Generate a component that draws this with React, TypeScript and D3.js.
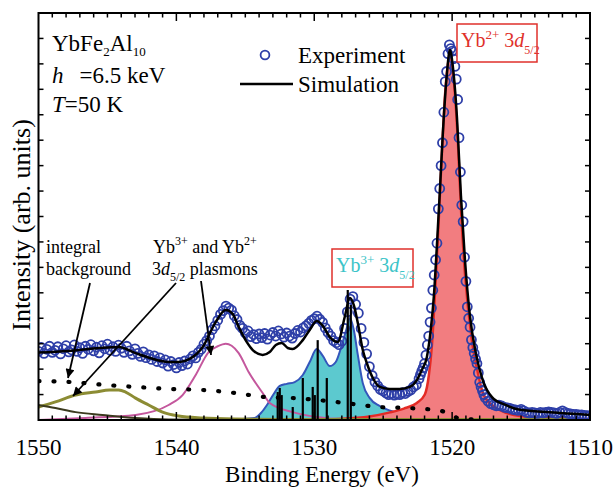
import React from "react";
import * as d3 from "d3";

type P = [number, number];

const W = 616;
const H = 488;
const X_DOMAIN: [number, number] = [1550, 1510];
const Y_DOMAIN: [number, number] = [0, 16];
const X_TICK_LABELS = [1550, 1540, 1530, 1520, 1510];

// Experimental spectrum [binding energy eV, intensity]
const expData: P[] = [
  [1550.0, 2.70], [1549.8, 2.85], [1549.6, 2.62], [1549.4, 2.78], [1549.2, 2.90], [1549.0, 2.66],
  [1548.8, 2.74], [1548.6, 2.88], [1548.4, 2.60], [1548.2, 2.80], [1548.0, 2.92], [1547.8, 2.68],
  [1547.6, 2.76], [1547.4, 2.95], [1547.2, 2.70], [1547.0, 2.84], [1546.8, 2.62], [1546.6, 2.90],
  [1546.4, 2.78], [1546.2, 2.96], [1546.0, 2.72], [1545.8, 2.86], [1545.6, 2.64], [1545.4, 2.92],
  [1545.2, 2.80], [1545.0, 2.98], [1544.8, 2.74], [1544.6, 2.88], [1544.4, 2.70], [1544.2, 2.94],
  [1544.0, 2.82], [1543.8, 2.66], [1543.6, 2.90], [1543.4, 2.72], [1543.2, 2.58], [1543.0, 2.80],
  [1542.8, 2.62], [1542.6, 2.50], [1542.4, 2.68], [1542.2, 2.45], [1542.0, 2.56], [1541.8, 2.38],
  [1541.6, 2.52], [1541.4, 2.30], [1541.2, 2.44], [1541.0, 2.24], [1540.8, 2.36], [1540.6, 2.12],
  [1540.4, 2.30], [1540.2, 2.18], [1540.0, 2.05], [1539.8, 2.26], [1539.6, 2.14], [1539.4, 2.32],
  [1539.2, 2.20], [1539.0, 2.40], [1538.8, 2.52], [1538.6, 2.44], [1538.4, 2.66], [1538.2, 2.78],
  [1538.0, 2.98], [1537.8, 3.12], [1537.6, 3.30], [1537.4, 3.55], [1537.2, 3.70], [1537.0, 3.92],
  [1536.8, 4.15], [1536.6, 4.30], [1536.4, 4.48], [1536.2, 4.40], [1536.0, 4.32], [1535.8, 4.10],
  [1535.6, 3.95], [1535.4, 3.72], [1535.2, 3.60], [1535.0, 3.42], [1534.8, 3.50], [1534.6, 3.28],
  [1534.4, 3.36], [1534.2, 3.20], [1534.0, 3.38], [1533.8, 3.24], [1533.6, 3.40], [1533.4, 3.18],
  [1533.2, 3.34], [1533.0, 3.44], [1532.8, 3.30], [1532.6, 3.50], [1532.4, 3.38], [1532.2, 3.26],
  [1532.0, 3.42], [1531.8, 3.30], [1531.6, 3.22], [1531.4, 3.40], [1531.2, 3.52], [1531.0, 3.46],
  [1530.8, 3.62], [1530.6, 3.70], [1530.4, 3.80], [1530.2, 3.92], [1530.0, 3.98], [1529.8, 4.08],
  [1529.6, 3.96], [1529.4, 3.84], [1529.2, 3.62], [1529.0, 3.44], [1528.8, 3.30], [1528.6, 3.12],
  [1528.4, 3.04], [1528.2, 2.96], [1528.0, 3.10], [1527.8, 3.60], [1527.6, 4.25], [1527.4, 4.75],
  [1527.2, 4.85], [1527.0, 4.55], [1526.8, 4.20], [1526.6, 3.60], [1526.4, 3.05], [1526.2, 2.60],
  [1526.0, 2.10], [1525.8, 1.75], [1525.6, 1.50], [1525.4, 1.34], [1525.2, 1.20], [1525.0, 1.14],
  [1524.8, 1.06], [1524.6, 1.00], [1524.4, 1.04], [1524.2, 0.98], [1524.0, 1.02], [1523.8, 1.00],
  [1523.6, 1.08], [1523.4, 1.04], [1523.2, 1.12], [1523.0, 1.18], [1522.8, 1.30], [1522.6, 1.38],
  [1522.4, 1.62], [1522.3, 1.78], [1522.2, 1.92], [1522.1, 2.05], [1522.0, 2.22], [1521.9, 2.55],
  [1521.8, 2.95], [1521.7, 3.30], [1521.6, 3.85], [1521.5, 4.40], [1521.4, 5.10], [1521.3, 5.70],
  [1521.2, 6.30], [1521.1, 6.95], [1521.0, 8.30], [1520.9, 9.10], [1520.8, 10.00], [1520.7, 10.90],
  [1520.6, 12.10], [1520.5, 13.30], [1520.4, 13.70], [1520.3, 14.40], [1520.2, 14.75], [1520.1, 14.60],
  [1520.0, 14.50], [1519.9, 14.20], [1519.8, 13.90], [1519.7, 13.40], [1519.6, 12.60], [1519.5, 11.10],
  [1519.4, 9.75], [1519.3, 8.45], [1519.2, 7.80], [1519.1, 6.40], [1519.0, 5.45], [1518.9, 4.45],
  [1518.8, 4.00], [1518.7, 3.65], [1518.6, 3.15], [1518.5, 2.85], [1518.4, 2.62], [1518.3, 2.40],
  [1518.2, 2.22], [1518.1, 1.85], [1518.0, 1.48], [1517.9, 1.30], [1517.8, 1.15], [1517.7, 1.00],
  [1517.6, 0.88], [1517.4, 0.74], [1517.2, 0.64], [1517.0, 0.60], [1516.8, 0.56], [1516.6, 0.58],
  [1516.4, 0.55], [1516.2, 0.50], [1516.0, 0.48], [1515.8, 0.46], [1515.6, 0.42], [1515.4, 0.40],
  [1515.2, 0.38], [1515.0, 0.42], [1514.8, 0.36], [1514.6, 0.30], [1514.4, 0.28], [1514.2, 0.30],
  [1514.0, 0.28], [1513.8, 0.26], [1513.6, 0.30], [1513.4, 0.28], [1513.2, 0.30], [1513.0, 0.32],
  [1512.8, 0.30], [1512.6, 0.28], [1512.4, 0.26], [1512.2, 0.30], [1512.0, 0.36], [1511.8, 0.30],
  [1511.6, 0.26], [1511.4, 0.24], [1511.2, 0.22], [1511.0, 0.22], [1510.8, 0.20], [1510.6, 0.20],
  [1510.4, 0.18], [1510.2, 0.17], [1510.0, 0.16],
];

const simData: P[] = [
  [1550, 2.65], [1547.82, 2.71], [1545.57, 2.83], [1544.19, 2.87], [1542.96, 2.63], [1541.94, 2.44],
  [1540.56, 2.28], [1539.76, 2.28], [1539.04, 2.40], [1538.09, 2.87], [1537.15, 3.85], [1536.42, 4.32],
  [1535.92, 4.17], [1535.48, 3.66], [1534.9, 3.07], [1534.46, 2.75], [1533.74, 2.56], [1533.23, 2.67],
  [1532.79, 2.95], [1532.36, 3.03], [1531.92, 2.83], [1531.56, 2.79], [1530.83, 3.14], [1530.33, 3.54],
  [1529.82, 3.89], [1529.38, 3.70], [1528.87, 3.26], [1528.29, 3.07], [1527.79, 4.05], [1527.42, 4.80],
  [1527.13, 4.52], [1526.84, 3.81], [1526.48, 2.75], [1526.19, 2.24], [1525.75, 1.65], [1525.25, 1.30],
  [1524.52, 1.22], [1523.79, 1.22], [1523.07, 1.30], [1522.56, 1.57], [1522.2, 1.97], [1521.83, 2.48],
  [1521.54, 3.6], [1521.32, 4.9], [1521.11, 6.8], [1520.89, 9.0], [1520.67, 11.3], [1520.38, 13.6],
  [1520.16, 14.55], [1519.95, 13.9], [1519.65, 11.9], [1519.36, 8.8], [1519.07, 6.3], [1518.71, 4.1],
  [1518.27, 2.6], [1517.77, 1.55], [1517.11, 0.9], [1516.17, 0.6], [1515.08, 0.4], [1512.9, 0.3],
  [1510, 0.2],
];

const yb2Peak: P[] = [
  [1532, 0.0], [1528, 0.05], [1526, 0.14], [1524.5, 0.3], [1523.5, 0.45], [1522.56, 0.67],
  [1521.98, 1.0], [1521.69, 1.75], [1521.47, 2.9], [1521.25, 4.9], [1521.11, 6.3], [1520.96, 8.0],
  [1520.74, 10.5], [1520.5, 12.9], [1520.16, 14.35], [1519.87, 13.3], [1519.58, 10.9], [1519.36, 8.3],
  [1519.07, 5.75], [1518.57, 3.14], [1518.13, 1.85], [1517.77, 1.06], [1517.11, 0.59], [1516.53, 0.39],
  [1515.08, 0.16], [1512.9, 0.08], [1510, 0.04],
];

const yb3Multiplet: P[] = [
  [1537, 0.0], [1535.5, 0.03], [1534.32, 0.08], [1533.81, 0.31], [1533.38, 0.63], [1532.94, 1.02],
  [1532.5, 1.34], [1531.99, 1.42], [1531.42, 1.49], [1530.83, 1.77], [1530.33, 2.28], [1529.82, 2.79],
  [1529.38, 2.52], [1528.87, 2.12], [1528.44, 2.28], [1528.0, 2.95], [1527.64, 3.62], [1527.42, 4.01],
  [1527.13, 3.54], [1526.84, 2.56], [1526.48, 1.45], [1525.97, 0.86], [1525.25, 0.55], [1524.16, 0.31],
  [1522.34, 0.16], [1520.16, 0.08], [1516.53, 0.02], [1510, 0.0],
];

const plasmonPink: P[] = [
  [1550, 0.0], [1546.59, 0.08], [1542.96, 0.2], [1540.56, 0.59], [1539.55, 0.98], [1538.6, 1.77],
  [1537.66, 2.67], [1537.0, 2.9], [1536.42, 3.0], [1535.99, 2.92], [1535.48, 2.63], [1534.76, 1.89],
  [1533.74, 1.06], [1533.23, 0.67], [1531.56, 0.31], [1529.82, 0.12], [1527.93, 0.03], [1525, 0.0],
  [1510, 0.0],
];

const plasmonOlive: P[] = [
  [1550, 0.51], [1548.77, 0.71], [1547.31, 0.98], [1545.86, 1.1], [1544.85, 1.18], [1544.19, 1.18],
  [1543.68, 1.1], [1542.96, 0.86], [1542.01, 0.59], [1541.0, 0.31], [1539.84, 0.16], [1538.09, 0.08],
  [1535.7, 0.04], [1531, 0.02], [1510, 0.02],
];

const tailDark: P[] = [
  [1550, 0.59], [1548.77, 0.47], [1547.31, 0.31], [1545.35, 0.2], [1542.96, 0.08], [1540.56, 0.02],
  [1535, 0.0],
];

const integralBg: P[] = [
  [1550, 1.53], [1547.6, 1.49], [1545.2, 1.38], [1542.96, 1.3], [1540.56, 1.22], [1538.09, 1.18],
  [1535.7, 1.06], [1533.52, 0.9], [1531.4, 0.86], [1529.1, 0.75], [1527.2, 0.63], [1525.3, 0.51],
  [1523.2, 0.47], [1521.2, 0.39], [1520.5, 0.31], [1520.0, 0.16], [1519.4, 0.06], [1518.5, 0.02],
];

const multipletSticks: P[] = [
  [1532.65, 1.1], [1532.5, 1.26], [1532.36, 0.98], [1531.56, 0.51], [1530.83, 1.65], [1530.11, 1.3],
  [1529.96, 0.98], [1529.75, 3.14], [1529.09, 1.65], [1527.57, 5.11], [1527.35, 4.52],
];

const FONT = "'Liberation Serif', 'Times New Roman', Times, serif";
const TS: React.CSSProperties = { fontFamily: FONT };

export default function App() {
  const x = d3.scaleLinear().domain(X_DOMAIN).range([38.5, 590]);
  const y = d3.scaleLinear().domain(Y_DOMAIN).range([420, 13]);
  const [x0, x1] = x.range();
  const [yb, yt] = y.range();

  const line = d3
    .line<P>()
    .x((d) => x(d[0]))
    .y((d) => y(d[1]))
    .curve(d3.curveMonotoneX);
  const area = d3
    .area<P>()
    .x((d) => x(d[0]))
    .y0(y(0))
    .y1((d) => y(d[1]))
    .curve(d3.curveMonotoneX);

  const minorTicks = d3.range(1511, 1550, 1);
  const yTicks = d3.range(1, 16, 1);

  const arrows = [
    [90, 283, 68, 378],
    [176, 283, 73, 396],
    [201, 281, 211, 355],
  ];

  return (
    <svg
      width={W}
      height={H}
      viewBox={`0 0 ${W} ${H}`}
      style={{ position: "absolute", left: 0, top: 0, background: "#fff", fontFamily: FONT }}
    >
      <defs>
        <clipPath id="plot">
          <rect x={x0} y={yt} width={x1 - x0} height={yb - yt} />
        </clipPath>
        <marker
          id="ah"
          viewBox="0 0 10 10"
          refX="10"
          refY="5"
          markerWidth="11"
          markerHeight="9"
          markerUnits="userSpaceOnUse"
          orient="auto"
        >
          <path d="M0,0 L10,5 L0,10 z" fill="#000" />
        </marker>
      </defs>

      <g clipPath="url(#plot)">
        <path d={area(yb3Multiplet) || ""} fill="#5cc9cf" />
        <path d={line(yb3Multiplet) || ""} fill="none" stroke="#3456bb" strokeWidth={2} />
        <path d={area(yb2Peak) || ""} fill="#f27d80" />
        <path d={line(yb2Peak) || ""} fill="none" stroke="#e42b25" strokeWidth={2.5} />
        <path d={line(plasmonPink) || ""} fill="none" stroke="#c4579d" strokeWidth={2} />
        <path d={line(plasmonOlive) || ""} fill="none" stroke="#8c8c34" strokeWidth={3} />
        <path d={line(tailDark) || ""} fill="none" stroke="#3b3a1e" strokeWidth={2} />
        <path
          d={line(integralBg) || ""}
          fill="none"
          stroke="#000"
          strokeWidth={4.2}
          strokeLinecap="round"
          strokeDasharray="1 14"
        />
        {expData.map((d, i) => (
          <circle
            key={i}
            cx={x(d[0])}
            cy={y(d[1])}
            r={4.5}
            fill="none"
            stroke="#2e3fa8"
            strokeWidth={1.8}
          />
        ))}
        {multipletSticks.map((d, i) => (
          <line
            key={i}
            x1={x(d[0])}
            x2={x(d[0])}
            y1={y(0)}
            y2={y(d[1])}
            stroke="#000"
            strokeWidth={2.2}
          />
        ))}
        <path d={line(simData) || ""} fill="none" stroke="#000" strokeWidth={2.5} />
      </g>

      {/* frame */}
      <rect x={x0} y={yt} width={x1 - x0} height={yb - yt} fill="none" stroke="#000" strokeWidth={2} />
      {minorTicks.map((t) => {
        const len = t % 10 === 0 ? 8 : 4.5;
        return (
          <g key={t}>
            <line x1={x(t)} x2={x(t)} y1={yb} y2={yb - len} stroke="#000" strokeWidth={1.5} />
            <line x1={x(t)} x2={x(t)} y1={yt} y2={yt + len} stroke="#000" strokeWidth={1.5} />
          </g>
        );
      })}
      {yTicks.map((t) => (
        <g key={t}>
          <line x1={x0} x2={x0 + 5} y1={y(t)} y2={y(t)} stroke="#000" strokeWidth={1.5} />
          <line x1={x1} x2={x1 - 5} y1={y(t)} y2={y(t)} stroke="#000" strokeWidth={1.5} />
        </g>
      ))}
      {X_TICK_LABELS.map((t) => (
        <text key={t} x={x(t)} y={455} fontSize={23} textAnchor="middle" fill="#000" style={TS}>
          {t}
        </text>
      ))}
      <text x={322} y={482} fontSize={23} textAnchor="middle" style={TS}>
        Binding Energy (eV)
      </text>
      <text transform={`translate(30, 225) rotate(-90)`} fontSize={26} textAnchor="middle" style={TS}>
        Intensity (arb. units)
      </text>

      {/* sample info */}
      <text x={52} y={51} fontSize={23} style={TS}>
        YbFe<tspan fontSize={13} dy={5}>2</tspan>
        <tspan dy={-5}>Al</tspan>
        <tspan fontSize={13} dy={5}>10</tspan>
      </text>
      <text x={52} y={83} fontSize={23} style={TS}>
        <tspan fontStyle="italic">h</tspan>
        <tspan dx={16}>=6.5 keV</tspan>
      </text>
      <text x={52} y={112} fontSize={23} style={TS}>
        <tspan fontStyle="italic">T</tspan>=50 K
      </text>

      {/* legend */}
      <circle cx={265} cy={55} r={4.4} fill="none" stroke="#2e3fa8" strokeWidth={1.8} />
      <text x={298} y={63} fontSize={23} style={TS}>Experiment</text>
      <line x1={240} x2={293} y1={84} y2={84} stroke="#000" strokeWidth={2.5} />
      <text x={298} y={92} fontSize={23} style={TS}>Simulation</text>

      {/* Yb2+ label */}
      <rect x={457} y={24} width={80} height={38} fill="#fff" stroke="#e0312b" strokeWidth={1.5} />
      <text x={461} y={47} fontSize={20} fill="#e0312b" style={TS}>
        Yb<tspan fontSize={13} dy={-8}>2+</tspan>
        <tspan dy={8}> 3</tspan>
        <tspan fontStyle="italic">d</tspan>
        <tspan fontSize={12} dy={7}>5/2</tspan>
      </text>

      {/* Yb3+ label */}
      <rect x={332} y={249} width={81} height={38} fill="#fff" stroke="#e0312b" strokeWidth={1.5} />
      <text x={336} y={272} fontSize={20} fill="#3cc4c8" style={TS}>
        Yb<tspan fontSize={13} dy={-8}>3+</tspan>
        <tspan dy={8}> 3</tspan>
        <tspan fontStyle="italic">d</tspan>
        <tspan fontSize={12} dy={7}>5/2</tspan>
      </text>

      {/* annotations */}
      <text x={46} y={253} fontSize={18} style={TS}>integral</text>
      <text x={46} y={275} fontSize={18} style={TS}>background</text>
      <text x={153} y={253} fontSize={18} style={TS}>
        Yb<tspan fontSize={12} dy={-8}>3+</tspan>
        <tspan dy={8}> and Yb</tspan>
        <tspan fontSize={12} dy={-8}>2+</tspan>
      </text>
      <text x={152} y={275} fontSize={18} style={TS}>
        3<tspan fontStyle="italic">d</tspan>
        <tspan fontSize={12} dy={6}>5/2</tspan>
        <tspan dy={-6}> plasmons</tspan>
      </text>
      {arrows.map((a, i) => (
        <line
          key={i}
          x1={a[0]}
          y1={a[1]}
          x2={a[2]}
          y2={a[3]}
          stroke="#000"
          strokeWidth={1.8}
          markerEnd="url(#ah)"
        />
      ))}
    </svg>
  );
}
